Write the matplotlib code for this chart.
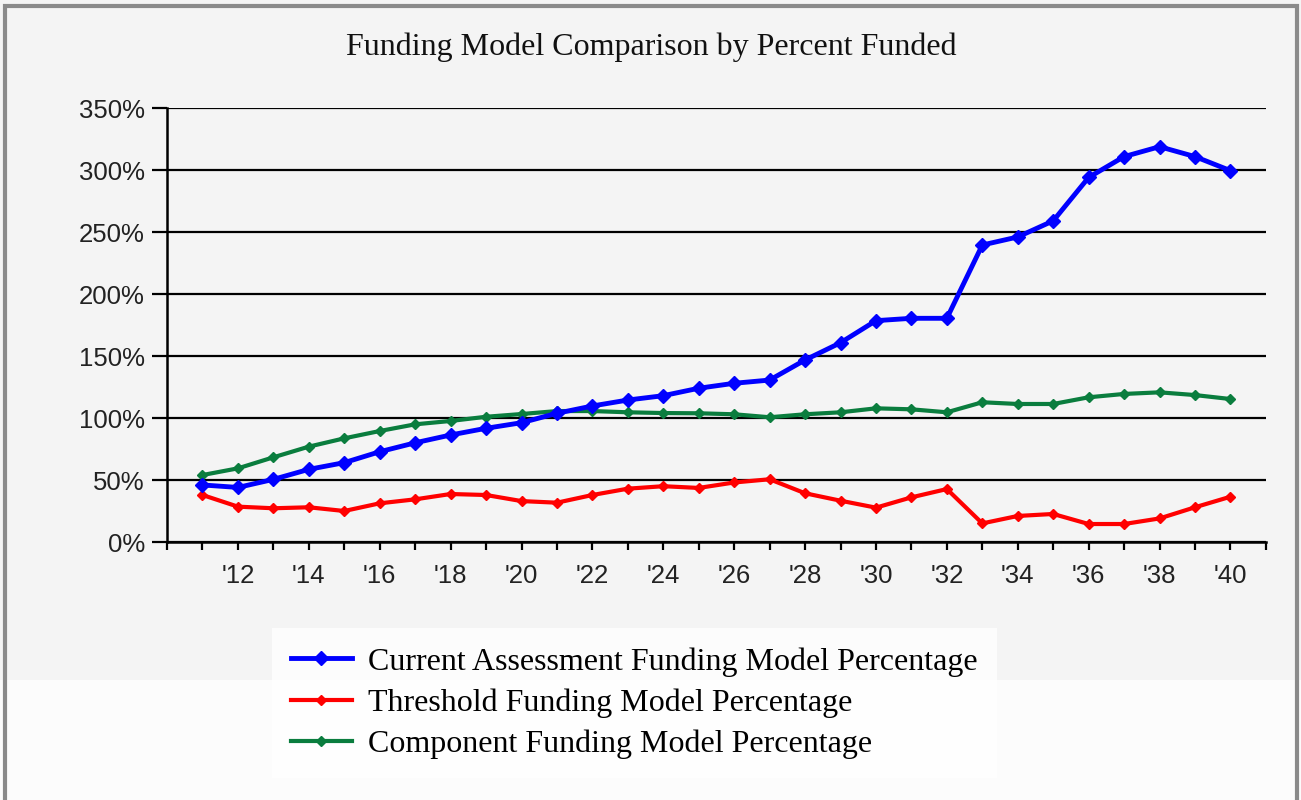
import matplotlib.pyplot as plt
import matplotlib.patches as patches
import numpy as np

years = list(range(2011, 2041))

current = [46, 44, 50.5, 58.6, 64, 72.8, 80, 86.3, 91.7, 96.2,
           103.8, 109.7, 114.5, 118, 124, 128, 130.6, 146.8, 160.7, 178.5,
           180.4, 180.4, 239.5, 246, 259, 294, 310.8, 318.8, 310.8, 299.5]
threshold = [37.9, 28.5, 27.2, 28, 25, 31.2, 34.4, 38.7, 37.9, 33,
             31.7, 37.9, 43, 45, 43.6, 48, 50.6, 39.3, 33.3, 27.7,
             36, 42.7, 15, 21, 22.6, 14.5, 14.5, 19, 28, 36.5]
component = [54, 59.4, 68.3, 76.9, 83.6, 89.5, 94.9, 97.6, 101, 103.2,
             105.6, 105.6, 104.6, 104, 103.8, 103, 100.6, 103, 104.6, 107.8,
             107, 104.6, 112.7, 111.3, 111.3, 116.7, 119.4, 120.7, 118.5, 115.3]

labels = ["Current Assessment Funding Model Percentage",
          "Threshold Funding Model Percentage",
          "Component Funding Model Percentage"]

bg = '#f4f4f4'
fig = plt.figure(figsize=(13.01, 8), dpi=100, facecolor=bg)

# lighter band at the bottom and a gray frame
fig.patches.append(patches.Rectangle((0, 0), 1, 0.15, transform=fig.transFigure,
                                     facecolor='#fcfcfc', edgecolor='none', zorder=0))
fig.patches.append(patches.Rectangle((0.004, -0.01), 0.993, 1.003, transform=fig.transFigure,
                                     facecolor='none', edgecolor='#8a8a8a', linewidth=3, zorder=5))

ax = fig.add_axes([0.1284, 0.3225, 0.8446, 0.5425])
ax.set_facecolor(bg)

ax.plot(years, current, color='#0000ff', linewidth=3.5, marker='D', markersize=7, label=labels[0], zorder=4)
ax.plot(years, threshold, color='#ff0000', linewidth=3, marker='D', markersize=5.5, label=labels[1], zorder=3)
ax.plot(years, component, color='#0a7d3e', linewidth=3, marker='D', markersize=5.5, label=labels[2], zorder=3)

ax.set_xlim(2010, 2041)
ax.set_ylim(0, 350)

ax.set_yticks(np.arange(0, 351, 50))
ax.set_yticklabels([f"{v}%" for v in range(0, 351, 50)])
ax.set_xticks(range(2010, 2042))
ax.set_xticklabels([f"'{y % 100:02d}" if (y % 2 == 0 and 2012 <= y <= 2040) else "" for y in range(2010, 2042)])

ax.grid(axis='y', color='black', linewidth=1.6)
ax.set_axisbelow(True)
for s in ['top', 'right']:
    ax.spines[s].set_visible(False)
for s in ['left', 'bottom']:
    ax.spines[s].set_linewidth(1.8)

ax.tick_params(axis='y', length=11, width=1.6, pad=5, labelsize=18.5, labelcolor='#222222')
ax.tick_params(axis='x', length=6, width=1.6, pad=10, labelsize=18.5, labelcolor='#222222')
for t in ax.get_xticklabels() + ax.get_yticklabels():
    t.set_fontfamily('Liberation Sans')

fig.text(0.501, 0.941, "Funding Model Comparison by Percent Funded", ha='center', va='center',
         fontsize=23, family='Liberation Serif', color='#111111')

leg = fig.legend(loc='center', bbox_to_anchor=(0.4875, 0.121), ncol=1, frameon=True,
                 prop={'family': 'Liberation Serif', 'size': 23},
                 handlelength=1.9, handletextpad=0.5, labelspacing=0.37,
                 borderpad=0.6, fancybox=False)
leg.get_frame().set_facecolor('white')
leg.get_frame().set_edgecolor('none')

fig.savefig('out.png', dpi=100, facecolor=fig.get_facecolor())
